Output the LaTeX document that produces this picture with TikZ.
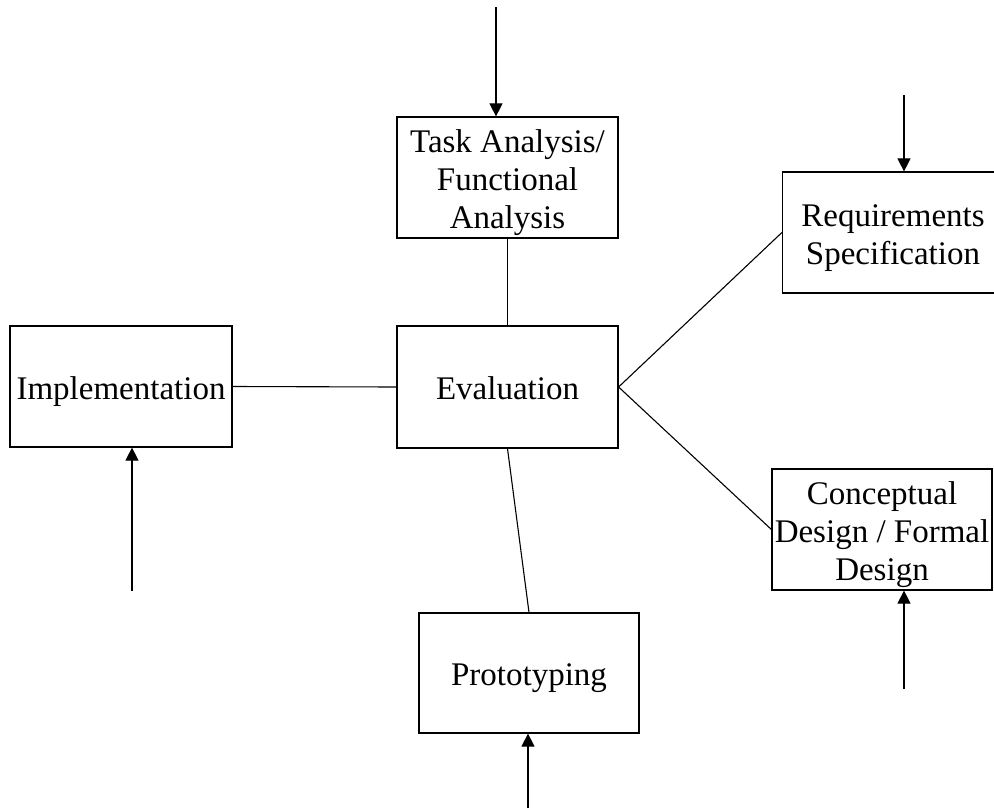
\documentclass[tikz,border=0pt]{standalone}
\usepackage{fontspec}
\setmainfont{Liberation Serif}
\usetikzlibrary{arrows.meta}
% invisible struts that fix the height of the first and the depth of the last text line
\newcommand\stagetop{\rule{0pt}{34pt}}
\newcommand\stagebot{\rule[-9pt]{0pt}{9pt}}
\begin{document}
\begin{tikzpicture}[x=1pt,y=-1pt,
  stage/.style={draw, line width=1.2pt, inner sep=0pt, align=center,
    minimum width=221pt, minimum height=121pt,
    font=\fontsize{33}{38}\selectfont},
  link/.style={line width=1.1pt},
  feed/.style={line width=1.1pt, -{Triangle[length=13pt,width=13pt]}}]
  \useasboundingbox (0,0) rectangle (994,809);

  % process stages
  \node[stage] (task) at (507.5,177.5)
    {\stagetop Task Analysis/\\Functional\\Analysis\stagebot};
  \node[stage] (req) at (893,232.5)
    {\stagetop Requirements\\Specification\stagebot};
  \node[stage, minimum width=222pt] (impl) at (121,386.5)
    {\stagetop Implementation\stagebot};
  \node[stage, minimum height=122pt] (eval) at (507.5,387)
    {\stagetop Evaluation\stagebot};
  \node[stage, minimum width=220pt] (concept) at (882,529.5)
    {\stagetop Conceptual\\Design / Formal\\Design\stagebot};
  \node[stage, minimum width=220pt, minimum height=120pt] (proto) at (529,673)
    {\stagetop Prototyping\stagebot};

  % links to the central evaluation stage
  \draw[link] (task.south) -- (eval.north);
  \draw[link] (impl.east) -- (eval.west);
  \draw[link] (eval.east) -- (req.west);
  \draw[link] (eval.east) -- (concept.west);
  \draw[link] (eval.south) -- (proto.north);

  % incoming inputs
  \coordinate (tin) at (496,7);
  \coordinate (rin) at (904,95);
  \coordinate (iin) at (132,591);
  \coordinate (cin) at (904,689);
  \coordinate (pin) at (528,808);
  \draw[feed] (tin) -- (tin |- task.north);
  \draw[feed] (rin) -- (rin |- req.north);
  \draw[feed] (iin) -- (iin |- impl.south);
  \draw[feed] (cin) -- (cin |- concept.south);
  \draw[feed] (pin) -- (pin |- proto.south);
\end{tikzpicture}
\end{document}
